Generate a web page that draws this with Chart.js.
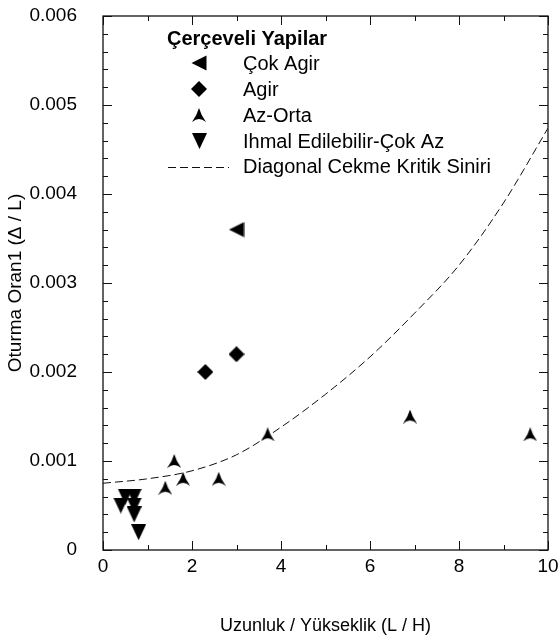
<!DOCTYPE html>
<html>
<head>
<meta charset="utf-8">
<script src="https://cdn.jsdelivr.net/npm/chart.js@4.4.0/dist/chart.umd.min.js"></script>
<style>
  html, body { margin: 0; padding: 0; background: #fff; }
</style>
</head>
<body>
<canvas id="chart" width="559" height="637"></canvas>
<script>
// Çerçeveli yapılar: hasar sınıflarına göre L/H ve oturma oranı
const cokAgirX = [3.0];
const cokAgirY = [0.0036];
const agirX = [2.3, 3.0];
const agirY = [0.0020, 0.0022];
const azOrtaX = [1.4, 1.6, 1.8, 2.6, 3.7, 6.9, 9.6];
const azOrtaY = [0.0007, 0.0010, 0.0008, 0.0008, 0.0013, 0.0015, 0.0013];
const ihmalX = [0.4, 0.5, 0.7, 0.7, 0.7, 0.8];
const ihmalY = [0.0005, 0.0006, 0.0006, 0.0005, 0.0004, 0.0002];

// diagonal çekme kritik sınırı
const kritikX = [0, 1, 2, 3, 4, 5, 6, 7, 8, 9, 10];
const kritikY = [0.00075, 0.00080, 0.00089, 0.00107, 0.00138, 0.00175, 0.00217, 0.00266, 0.00320, 0.00390, 0.00474];

const xMajor = [0, 2, 4, 6, 8, 10];
const xMinor = [1, 3, 5, 7, 9];
const yMajor = [0, 0.001, 0.002, 0.003, 0.004, 0.005, 0.006];
const yMinor = [];
for (let i = 0; i < 30; i++) if (i % 5) yMinor.push(i * 0.0002);

const legendTitle = 'Çerçeveli Yapilar';
const legendLabels = ['Çok Agir', 'Agir', 'Az-Orta', 'Ihmal Edilebilir-Çok Az', 'Diagonal Cekme Kritik Siniri'];

const FONT = '"Liberation Sans", Arial, Helvetica, sans-serif';

function marker(w, h, path) {
  const c = document.createElement('canvas');
  c.width = w;
  c.height = h;
  const g = c.getContext('2d');
  g.fillStyle = '#000';
  g.beginPath();
  path(g, w, h);
  g.closePath();
  g.fill();
  return c;
}

const triLeft = marker(16, 16, (g, w, h) => {
  g.moveTo(0.5, h / 2);
  g.lineTo(w - 0.5, 0.5);
  g.lineTo(w - 0.5, h - 0.5);
});
const diamond = marker(16, 16, (g, w, h) => {
  g.moveTo(w / 2, 0);
  g.lineTo(w, h / 2);
  g.lineTo(w / 2, h);
  g.lineTo(0, h / 2);
});
const arrowUp = marker(14, 14, (g, w, h) => {
  g.moveTo(w / 2, 0);
  g.quadraticCurveTo(w * 0.66, h * 0.55, w, h);
  g.quadraticCurveTo(w * 0.72, h * 0.78, w / 2, h * 0.78);
  g.quadraticCurveTo(w * 0.28, h * 0.78, 0, h);
  g.quadraticCurveTo(w * 0.34, h * 0.55, w / 2, 0);
});
const triDown = marker(15, 16, (g, w, h) => {
  g.moveTo(0, 0);
  g.lineTo(w, 0);
  g.lineTo(w / 2, h);
});

const pts = (xs, ys) => xs.map((x, i) => ({ x: x, y: ys[i] }));

function scatterSet(label, xs, ys, style) {
  return {
    type: 'scatter',
    label: label,
    data: pts(xs, ys),
    pointStyle: style,
    pointRadius: 6,
    pointHoverRadius: 6,
    backgroundColor: '#000',
    borderColor: '#000'
  };
}

// çerçeve ve içe dönük tik çizgileri
const frameTicks = {
  id: 'frameTicks',
  afterDatasetsDraw(chart) {
    const { ctx, chartArea: a, scales } = chart;
    const xs = scales.x, ys = scales.y;
    ctx.save();
    ctx.strokeStyle = '#111';
    ctx.lineWidth = 1.3;
    ctx.strokeRect(a.left, a.top, a.right - a.left, a.bottom - a.top);
    ctx.lineWidth = 1;
    const tick = (vals, len, horiz) => {
      vals.forEach(v => {
        if (horiz) {
          const p = Math.round(xs.getPixelForValue(v)) + 0.5;
          ctx.moveTo(p, a.bottom); ctx.lineTo(p, a.bottom - len);
          ctx.moveTo(p, a.top); ctx.lineTo(p, a.top + len);
        } else {
          const p = Math.round(ys.getPixelForValue(v)) + 0.5;
          ctx.moveTo(a.left, p); ctx.lineTo(a.left + len, p);
          ctx.moveTo(a.right, p); ctx.lineTo(a.right - len, p);
        }
      });
    };
    ctx.beginPath();
    tick(xMajor, 9, true);
    tick(xMinor, 5, true);
    tick(yMajor, 9, false);
    tick(yMinor, 5, false);
    ctx.stroke();
    ctx.restore();
  }
};

// grafik içindeki lejant
const insideLegend = {
  id: 'insideLegend',
  afterDraw(chart) {
    const ctx = chart.ctx;
    const markers = [triLeft, diamond, arrowUp, triDown];
    ctx.save();
    ctx.fillStyle = '#000';
    ctx.textBaseline = 'alphabetic';
    ctx.font = 'bold 20px ' + FONT;
    ctx.fillText(legendTitle, 167, 45);
    ctx.font = '20px ' + FONT;
    ctx.textBaseline = 'middle';
    legendLabels.forEach((lab, i) => {
      const y = 63.3 + i * 25.9;
      if (i < markers.length) {
        const m = markers[i];
        ctx.drawImage(m, Math.round(199 - m.width / 2), Math.round(y - m.height / 2));
      } else {
        ctx.save();
        ctx.strokeStyle = '#111';
        ctx.lineWidth = 1;
        ctx.setLineDash([8, 4]);
        ctx.beginPath();
        ctx.moveTo(168, Math.round(y) + 0.5);
        ctx.lineTo(229, Math.round(y) + 0.5);
        ctx.stroke();
        ctx.restore();
      }
      ctx.fillText(lab, 243, y + 1);
    });
    ctx.restore();
  }
};

new Chart(document.getElementById('chart'), {
  type: 'scatter',
  data: {
    datasets: [
      scatterSet(legendLabels[0], cokAgirX, cokAgirY, triLeft),
      scatterSet(legendLabels[1], agirX, agirY, diamond),
      scatterSet(legendLabels[2], azOrtaX, azOrtaY, arrowUp),
      scatterSet(legendLabels[3], ihmalX, ihmalY, triDown),
      {
        type: 'line',
        label: legendLabels[4],
        data: pts(kritikX, kritikY),
        borderColor: '#111',
        borderWidth: 1,
        borderDash: [8, 4],
        pointRadius: 0,
        fill: false,
        cubicInterpolationMode: 'monotone'
      }
    ]
  },
  options: {
    responsive: false,
    animation: false,
    devicePixelRatio: 1,
    layout: { padding: { top: 16, right: 11, left: 0, bottom: 0 } },
    plugins: {
      legend: { display: false },
      tooltip: { enabled: false }
    },
    scales: {
      x: {
        type: 'linear',
        min: 0,
        max: 10,
        grid: { display: false },
        border: { display: false },
        ticks: {
          stepSize: 2,
          color: '#000',
          padding: -3,
          maxRotation: 0,
          font: { family: FONT, size: 19 }
        },
        title: {
          display: true,
          text: 'Uzunluk / Yükseklik (L / H)',
          color: '#000',
          padding: { top: 0, bottom: 0 },
          font: { family: FONT, size: 18 }
        },
        afterFit(scale) {
          scale.height = 87;
          scale.paddingLeft = 0;
          scale.paddingRight = 0;
        }
      },
      y: {
        type: 'linear',
        min: 0,
        max: 0.006,
        grid: { display: false },
        border: { display: false },
        ticks: {
          stepSize: 0.001,
          color: '#000',
          padding: 18,
          font: { family: FONT, size: 19 },
          callback: v => (v === 0 ? '0' : v.toFixed(3))
        },
        title: {
          display: true,
          text: 'Oturma Oran1 (Δ / L)',
          color: '#000',
          padding: { top: 4, bottom: 0 },
          font: { family: FONT, size: 19 }
        },
        afterFit(scale) {
          scale.width = 103;
          scale.paddingTop = 0;
          scale.paddingBottom = 0;
        }
      }
    }
  },
  plugins: [frameTicks, insideLegend]
});
</script>
</body>
</html>
